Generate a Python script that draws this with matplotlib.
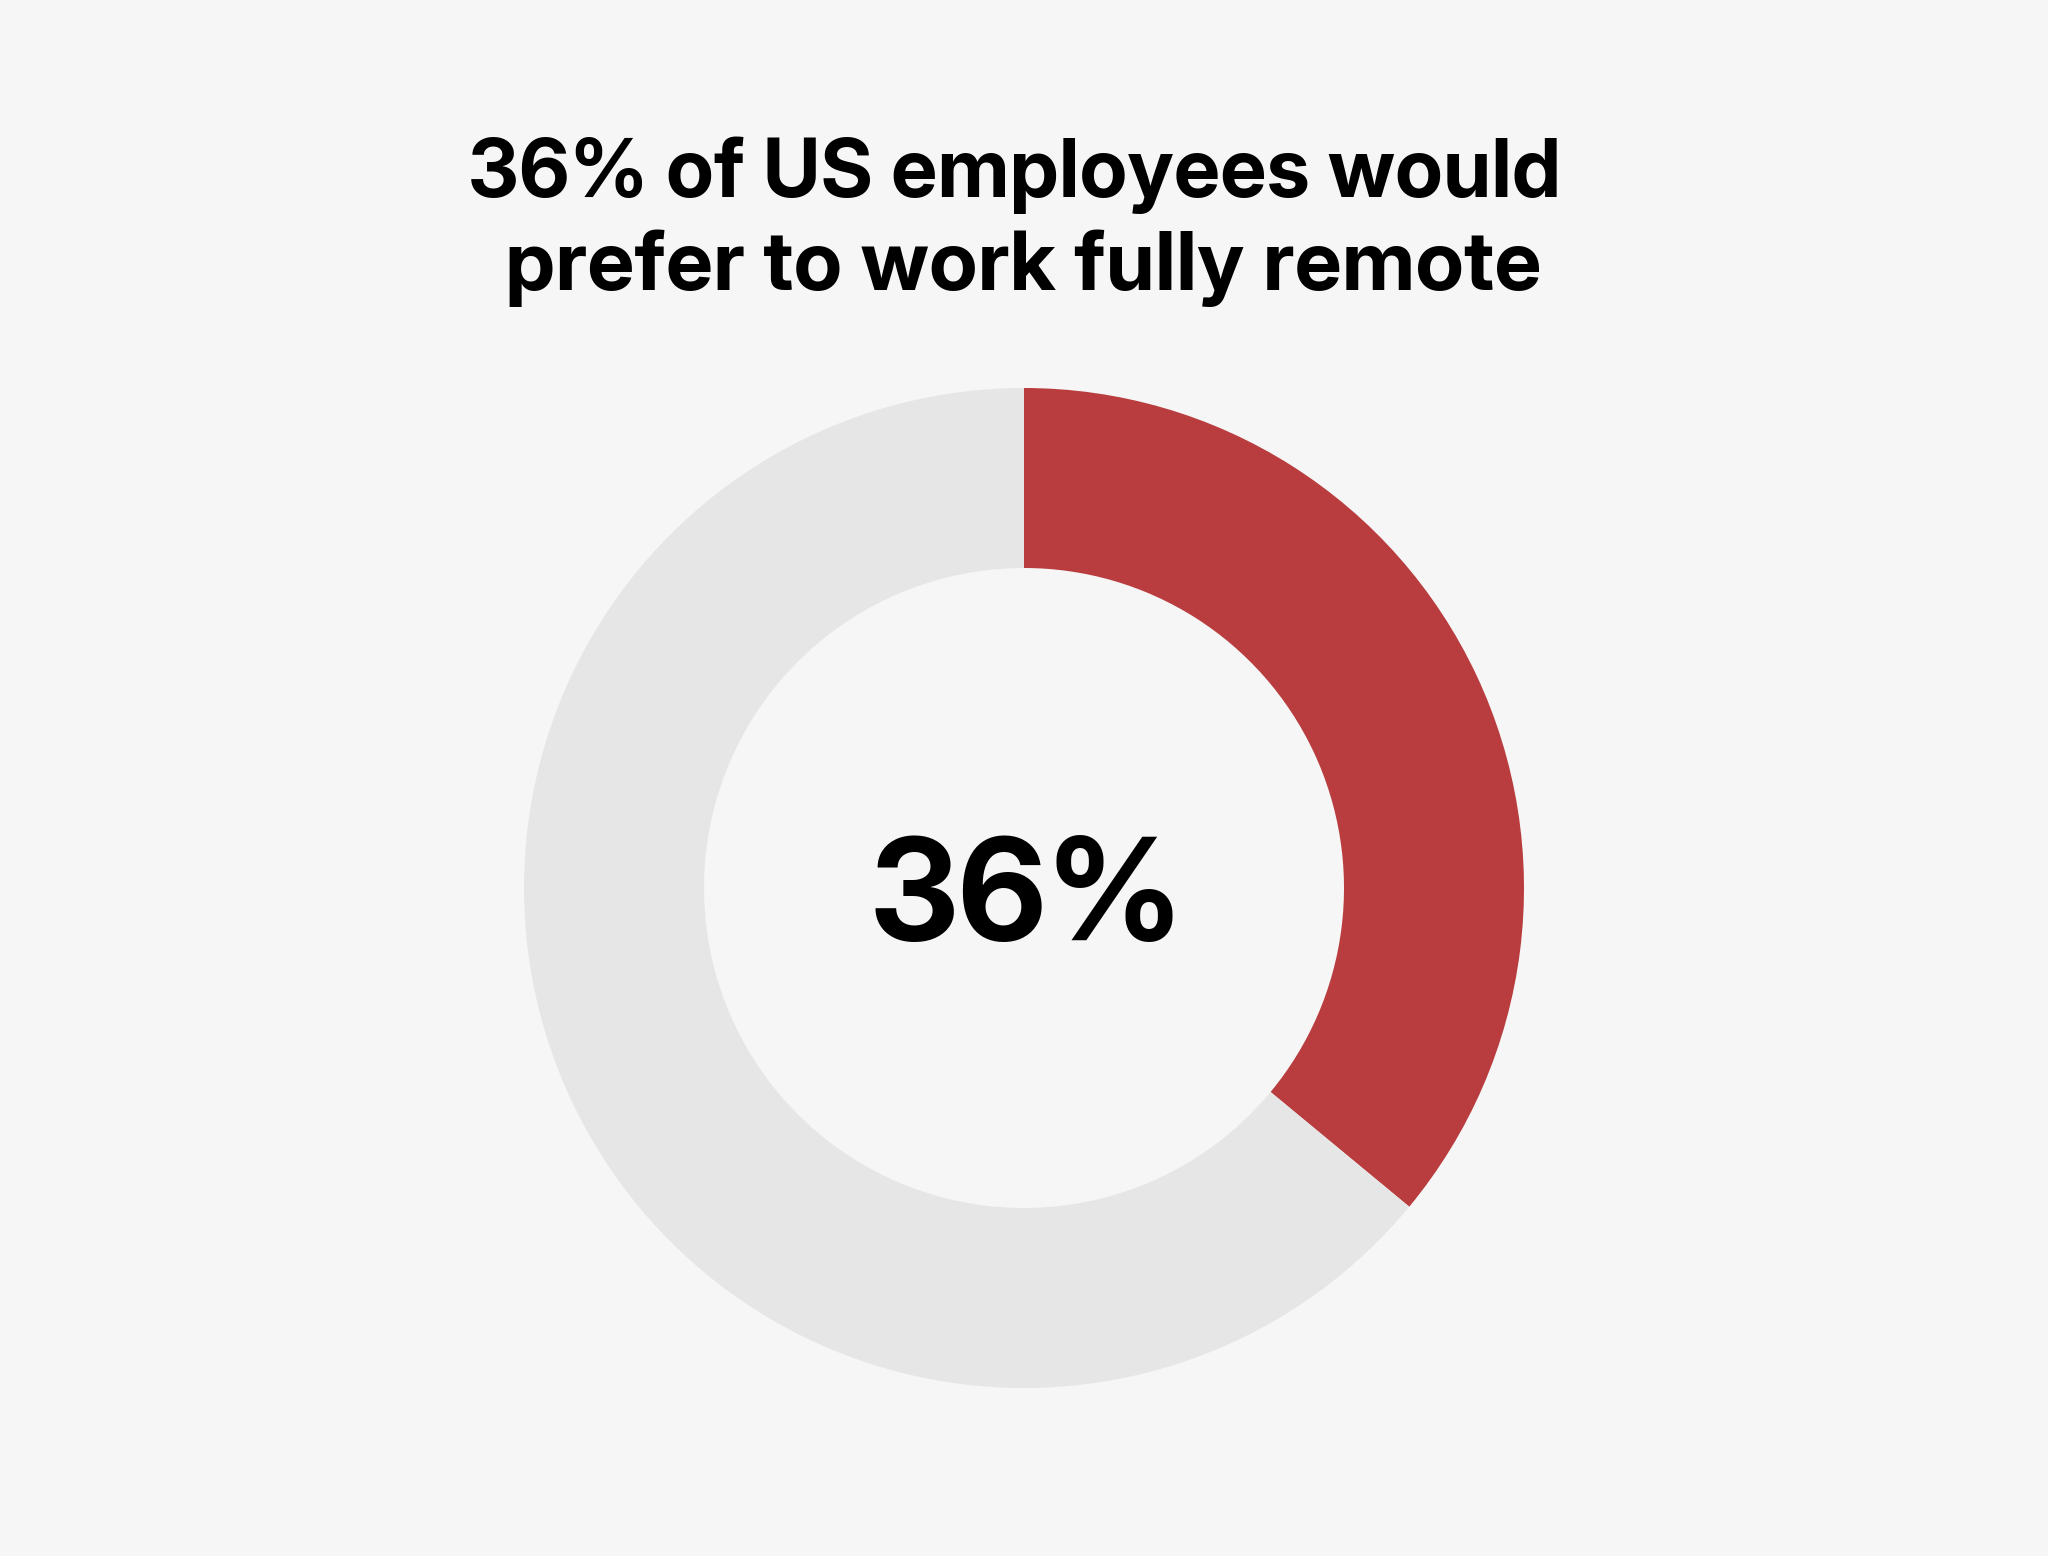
import matplotlib
matplotlib.use("Agg")
import matplotlib.pyplot as plt
from matplotlib import font_manager as fm

labels = ["Fully remote", "Other"]
values = [36, 64]
colors = ["#B93D3F", "#E6E6E6"]
title_lines = ["36% of US employees would", "prefer to work fully remote"]
center_label = "36%"


def find_font(name_end):
    for f in fm.fontManager.ttflist:
        if f.fname.endswith(name_end):
            return f.fname
    return None


def make_instance(opsz, out):
    try:
        from fontTools.ttLib import TTFont
        from fontTools.varLib import instancer
        vf = TTFont(find_font("Inter[opsz,wght].ttf"))
        inst = instancer.instantiateVariableFont(vf, {"wght": 700, "opsz": opsz})
        inst.save(out)
        return out
    except Exception:
        return find_font("Inter-Bold.otf")


title_font = make_instance(24, "InterBold24.ttf")
center_font = make_instance(27, "InterBold27.ttf")


def props(fname, size):
    if fname:
        return fm.FontProperties(fname=fname, size=size)
    return fm.FontProperties(family=["Inter", "DejaVu Sans"], weight="bold", size=size)


W, H = 2048, 1556
fig = plt.figure(figsize=(W / 100, H / 100), dpi=100, facecolor="#F6F6F6")

R = 500  # outer radius px
cx, cy = 1024, 888  # centre px from top-left
ax = fig.add_axes([(cx - R) / W, (H - cy - R) / H, 2 * R / W, 2 * R / H])
ax.set_facecolor("#F6F6F6")
ax.pie(values, colors=colors, startangle=90, counterclock=False, radius=1,
       wedgeprops=dict(width=0.36, edgecolor="none", antialiased=True))
ax.set_xlim(-1, 1)
ax.set_ylim(-1, 1)
ax.set_aspect("equal")
ax.axis("off")

fig.text(0.4955, (H - 197) / H, title_lines[0], ha="center", va="baseline",
         fontproperties=props(title_font, 58), color="#000000")
fig.text(0.4995, (H - 290) / H, title_lines[1], ha="center", va="baseline",
         fontproperties=props(title_font, 59), color="#000000")
fig.text(1026 / W, (H - 940) / H, center_label, ha="center", va="baseline",
         fontproperties=props(center_font, 102), color="#000000")

fig.savefig("out.png", dpi=100, facecolor=fig.get_facecolor())
